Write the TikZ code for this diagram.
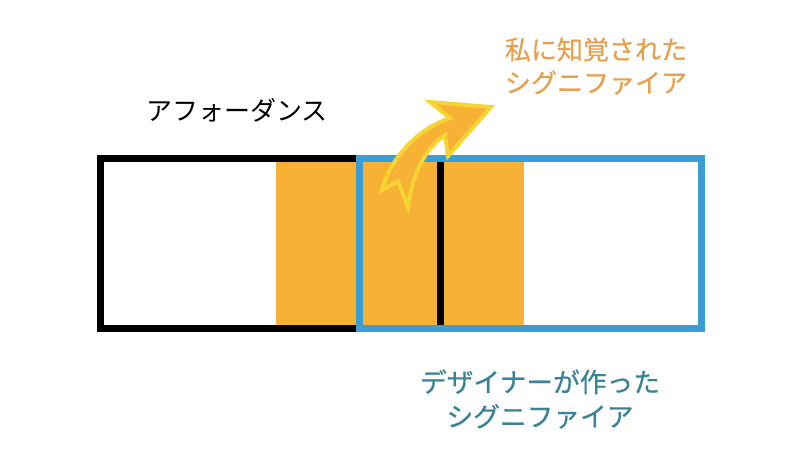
\documentclass[tikz,border=0pt]{standalone}
\usepackage{fontspec}
\newfontfamily\jpfont{Noto Sans CJK JP}
\newfontfamily\jpfontm[FakeBold=0.6]{Noto Sans CJK JP}
\definecolor{band}{RGB}{247,177,52}
\definecolor{boxblue}{RGB}{58,157,214}
\definecolor{percorange}{RGB}{231,160,78}
\definecolor{dsgnteal}{RGB}{58,132,150}
\definecolor{arryellow}{RGB}{246,212,52}
\tikzset{
    BX1/.style ={draw=black, line width=5pt},
    BX2/.style ={draw=boxblue, line width=5pt},
    OR/.style ={fill=band},
    AR/.style ={fill=band, draw=arryellow, line width=2.8pt, line join=miter},
    TX1/.style ={font=\jpfont\fontsize{18.5}{24}\selectfont, text=black},
    TX2/.style ={font=\jpfontm\fontsize{18.5}{23.5}\selectfont, text=percorange, align=center},
    TX3/.style ={font=\jpfontm\fontsize{19}{24.5}\selectfont, text=dsgnteal, align=center}}
\begin{document}
\begin{tikzpicture}[x=0.025cm,y=-0.025cm]
        \useasboundingbox (0,0) rectangle (800,450);
        \fill[OR] (276,158) rectangle (524,329);
        \draw[BX1] (100.5,158.5) rectangle (440.5,328.5);
        \draw[BX2] (359.5,158.5) rectangle (701.5,328.5);
        \filldraw[AR] (491,107) -- (430,102) -- (450,118)
            .. controls (415,130) and (390,160) .. (382,190) -- (398,181) -- (408,207)
            .. controls (412,175) and (425,148) .. (445,135) -- (448,156) -- cycle;
        \node[TX1] (aff) at (237,110) {アフォーダンス};
        \node[TX2] (perc) at (596,66) {私に知覚された\\シグニファイア};
        \node[TX3] (dsgn) at (540,399) {デザイナーが作った\\シグニファイア};
    \end{tikzpicture}
\end{document}
